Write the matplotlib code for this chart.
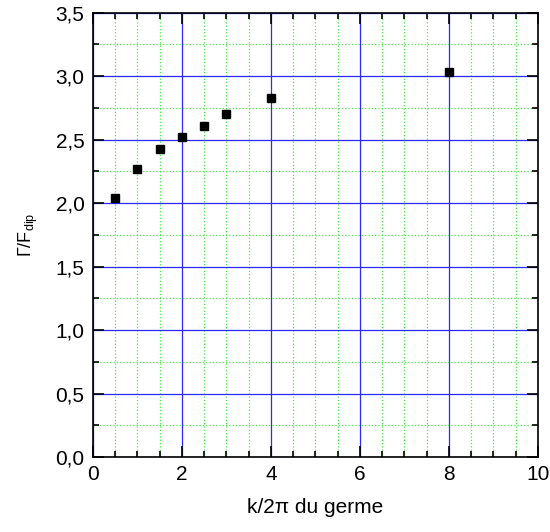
import matplotlib
matplotlib.use("Agg")
import matplotlib.pyplot as plt
from matplotlib.ticker import MultipleLocator, FuncFormatter

plt.rcParams['font.family'] = ['Liberation Sans', 'DejaVu Sans']
plt.rcParams['mathtext.default'] = 'regular'

# data
k_germe = [0.5, 1.0, 1.5, 2.0, 2.5, 3.0, 4.0, 8.0]
gamma_f = [2.04, 2.27, 2.43, 2.52, 2.61, 2.70, 2.83, 3.03]

fig = plt.figure(figsize=(5.5, 5.32), dpi=100)
ax = fig.add_axes([0.169, 0.141, 0.809, 0.835])

ax.plot(k_germe, gamma_f, 's', color='black', markersize=6.2, zorder=5)

ax.set_xlim(0, 10)
ax.set_ylim(0, 3.5)
ax.xaxis.set_major_locator(MultipleLocator(2))
ax.xaxis.set_minor_locator(MultipleLocator(0.5))
ax.yaxis.set_major_locator(MultipleLocator(0.5))
ax.yaxis.set_minor_locator(MultipleLocator(0.25))
ax.yaxis.set_major_formatter(FuncFormatter(lambda v, p: f"{v:.1f}".replace('.', ',')))

ax.grid(which='major', color='#2a2aff', linewidth=0.9, linestyle='-')
ax.grid(which='minor', color='#44ee44', linewidth=0.9, linestyle=':')
ax.set_axisbelow(True)

ax.tick_params(which='both', direction='in', top=True, right=True, width=1.2,
               labelsize=15, pad=6)
ax.tick_params(which='major', length=8)
ax.tick_params(which='minor', length=4)
for s in ax.spines.values():
    s.set_linewidth(1.2)

ax.set_xlabel("k/2\u03c0 du germe", fontsize=15)
ax.xaxis.set_label_coords(0.5, -0.092)
ax.set_ylabel("\u0393/F$_{dip}$", fontsize=13)
ax.yaxis.set_label_coords(-0.118, 0.5)

fig.savefig("out.png", dpi=100)
